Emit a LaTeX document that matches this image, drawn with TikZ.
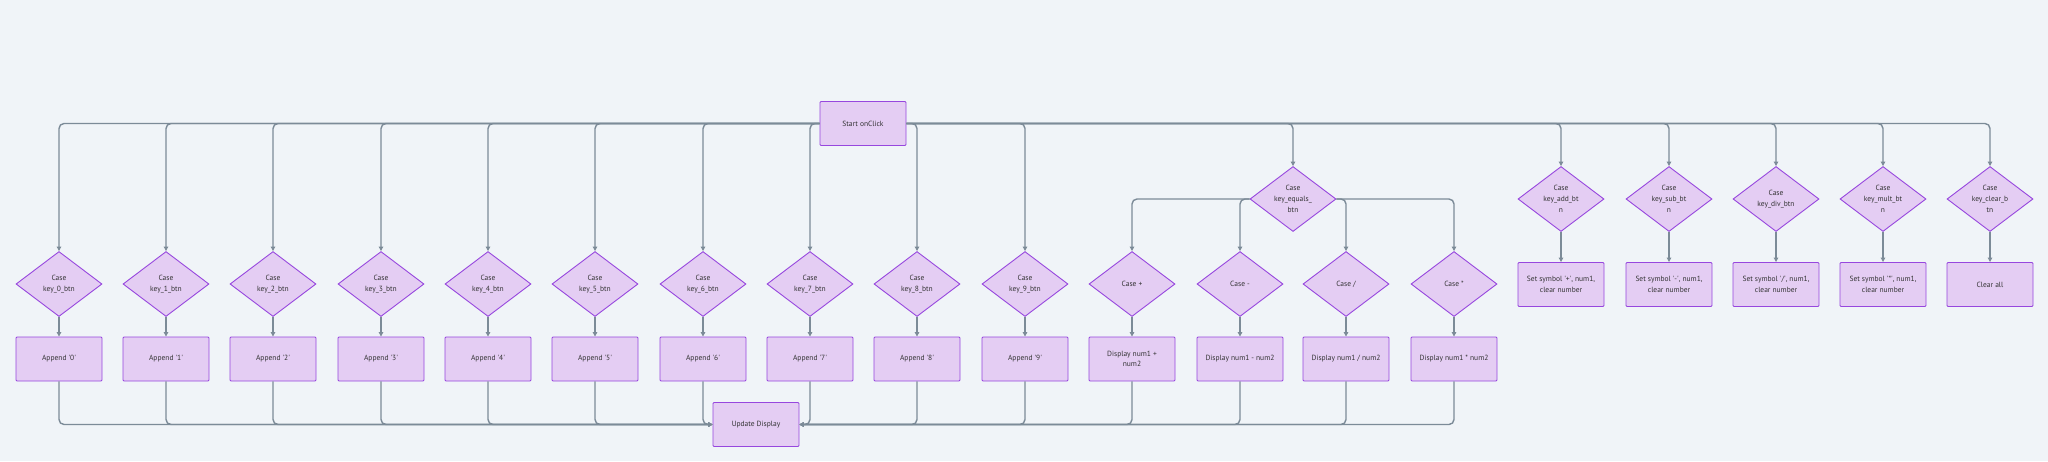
\documentclass[tikz,border=0pt]{standalone}
\usepackage{fontspec}
\setmainfont{PT Sans}
\usetikzlibrary{shapes.geometric,arrows.meta}
\definecolor{bgcol}{HTML}{F0F4F8}
\definecolor{boxfill}{HTML}{E4CDF3}
\definecolor{boxline}{HTML}{9747DE}
\definecolor{linkcol}{HTML}{7C8B98}
\definecolor{txtcol}{HTML}{333333}
\newcommand{\quoted}[1]{\textquotesingle#1\textquotesingle}

\begin{document}
\begin{tikzpicture}[x=1pt,y=-1pt,>={Triangle[length=4.5pt,width=4.5pt]},
  casen/.style={diamond,draw=boxline,fill=boxfill,line width=0.9pt,inner sep=0pt,
    minimum width=86pt,minimum height=65pt,align=center,text=txtcol,
    font=\fontsize{7.5}{10.7}\selectfont},
  actn/.style={rectangle,draw=boxline,fill=boxfill,line width=0.9pt,inner sep=1pt,
    rounded corners=1pt,minimum width=86pt,minimum height=44pt,align=center,
    text=txtcol,font=\fontsize{7.5}{10.7}\selectfont},
  flow/.style={->,draw=linkcol,line width=1.4pt,rounded corners=5pt},
  hv/.style={flow,to path={-| (\tikztotarget)}},
  vh/.style={flow,to path={|- (\tikztotarget)}}]
\fill[bgcol] (0,0) rectangle (2048,461);
\useasboundingbox (0,0) rectangle (2048,461);
%
\node[actn] (start) at (863,123.5) {Start onClick};
\node[actn] (upd) at (756,424.5) {Update Display};
%% digit keys
\node[casen] (k0) at (59,284) {Case\\key\_0\_btn};
\node[casen] (k1) at (166,284) {Case\\key\_1\_btn};
\node[casen] (k2) at (273,284) {Case\\key\_2\_btn};
\node[casen] (k3) at (381,284) {Case\\key\_3\_btn};
\node[casen] (k4) at (488,284) {Case\\key\_4\_btn};
\node[casen] (k5) at (595,284) {Case\\key\_5\_btn};
\node[casen] (k6) at (703,284) {Case\\key\_6\_btn};
\node[casen] (k7) at (810,284) {Case\\key\_7\_btn};
\node[casen] (k8) at (917,284) {Case\\key\_8\_btn};
\node[casen] (k9) at (1025,284) {Case\\key\_9\_btn};
\node[actn] (a0) at (59,359) {Append \quoted{0}};
\node[actn] (a1) at (166,359) {Append \quoted{1}};
\node[actn] (a2) at (273,359) {Append \quoted{2}};
\node[actn] (a3) at (381,359) {Append \quoted{3}};
\node[actn] (a4) at (488,359) {Append \quoted{4}};
\node[actn] (a5) at (595,359) {Append \quoted{5}};
\node[actn] (a6) at (703,359) {Append \quoted{6}};
\node[actn] (a7) at (810,359) {Append \quoted{7}};
\node[actn] (a8) at (917,359) {Append \quoted{8}};
\node[actn] (a9) at (1025,359) {Append \quoted{9}};
%% equals key
\node[casen] (eq) at (1293,199) {Case\\key\_equals\_\\btn};
\node[casen] (cadd) at (1132,284) {Case +};
\node[casen] (csub) at (1240,284) {Case -};
\node[casen] (cdiv) at (1346,284) {Case /};
\node[casen] (cmul) at (1454,284) {Case *};
\node[actn] (dadd) at (1132,359) {Display num1 +\\num2};
\node[actn] (dsub) at (1240,359) {Display num1 - num2};
\node[actn] (ddiv) at (1346,359) {Display num1 / num2};
\node[actn] (dmul) at (1454,359) {Display num1 * num2};
%% operator keys
\node[casen] (kadd) at (1561,199) {Case\\key\_add\_bt\\n};
\node[casen] (ksub) at (1669,199) {Case\\key\_sub\_bt\\n};
\node[casen] (kdiv) at (1776,199) {Case\\key\_div\_btn};
\node[casen] (kmul) at (1883,199) {Case\\key\_mult\_bt\\n};
\node[casen] (kclr) at (1990,199) {Case\\key\_clear\_b\\tn};
\node[actn] (sadd) at (1561,284.5) {Set symbol \quoted{+}, num1,\\clear number};
\node[actn] (ssub) at (1669,284.5) {Set symbol \quoted{-}, num1,\\clear number};
\node[actn] (sdiv) at (1776,284.5) {Set symbol \quoted{/}, num1,\\clear number};
\node[actn] (smul) at (1883,284.5) {Set symbol \quoted{*}, num1,\\clear number};
\node[actn] (clr) at (1990,284.5) {Clear all};
%%
\path (start.west) edge[hv] (k0.north) edge[hv] (k1.north) edge[hv] (k2.north)
  edge[hv] (k3.north) edge[hv] (k4.north) edge[hv] (k5.north) edge[hv] (k6.north)
  edge[hv] (k7.north);
\path (start.east) edge[hv] (k8.north) edge[hv] (k9.north) edge[hv] (eq.north)
  edge[hv] (kadd.north) edge[hv] (ksub.north) edge[hv] (kdiv.north)
  edge[hv] (kmul.north) edge[hv] (kclr.north);
\path (eq.west) edge[hv] (cadd.north) edge[hv] (csub.north)
  (eq.east) edge[hv] (cdiv.north) edge[hv] (cmul.north);
\path[every edge/.append style={flow}]
  (k0) edge (a0) (k1) edge (a1) (k2) edge (a2) (k3) edge (a3) (k4) edge (a4)
  (k5) edge (a5) (k6) edge (a6) (k7) edge (a7) (k8) edge (a8) (k9) edge (a9)
  (cadd) edge (dadd) (csub) edge (dsub) (cdiv) edge (ddiv) (cmul) edge (dmul)
  (kadd) edge (sadd) (ksub) edge (ssub) (kdiv) edge (sdiv) (kmul) edge (smul)
  (kclr) edge (clr);
\path (a0.south) edge[vh] (upd.west) (a1.south) edge[vh] (upd.west)
  (a2.south) edge[vh] (upd.west) (a3.south) edge[vh] (upd.west)
  (a4.south) edge[vh] (upd.west) (a5.south) edge[vh] (upd.west)
  (a6.south) edge[vh] (upd.west);
\path (a7.south) edge[vh] (upd.east) (a8.south) edge[vh] (upd.east)
  (a9.south) edge[vh] (upd.east) (dadd.south) edge[vh] (upd.east)
  (dsub.south) edge[vh] (upd.east) (ddiv.south) edge[vh] (upd.east)
  (dmul.south) edge[vh] (upd.east);
\end{tikzpicture}
\end{document}
